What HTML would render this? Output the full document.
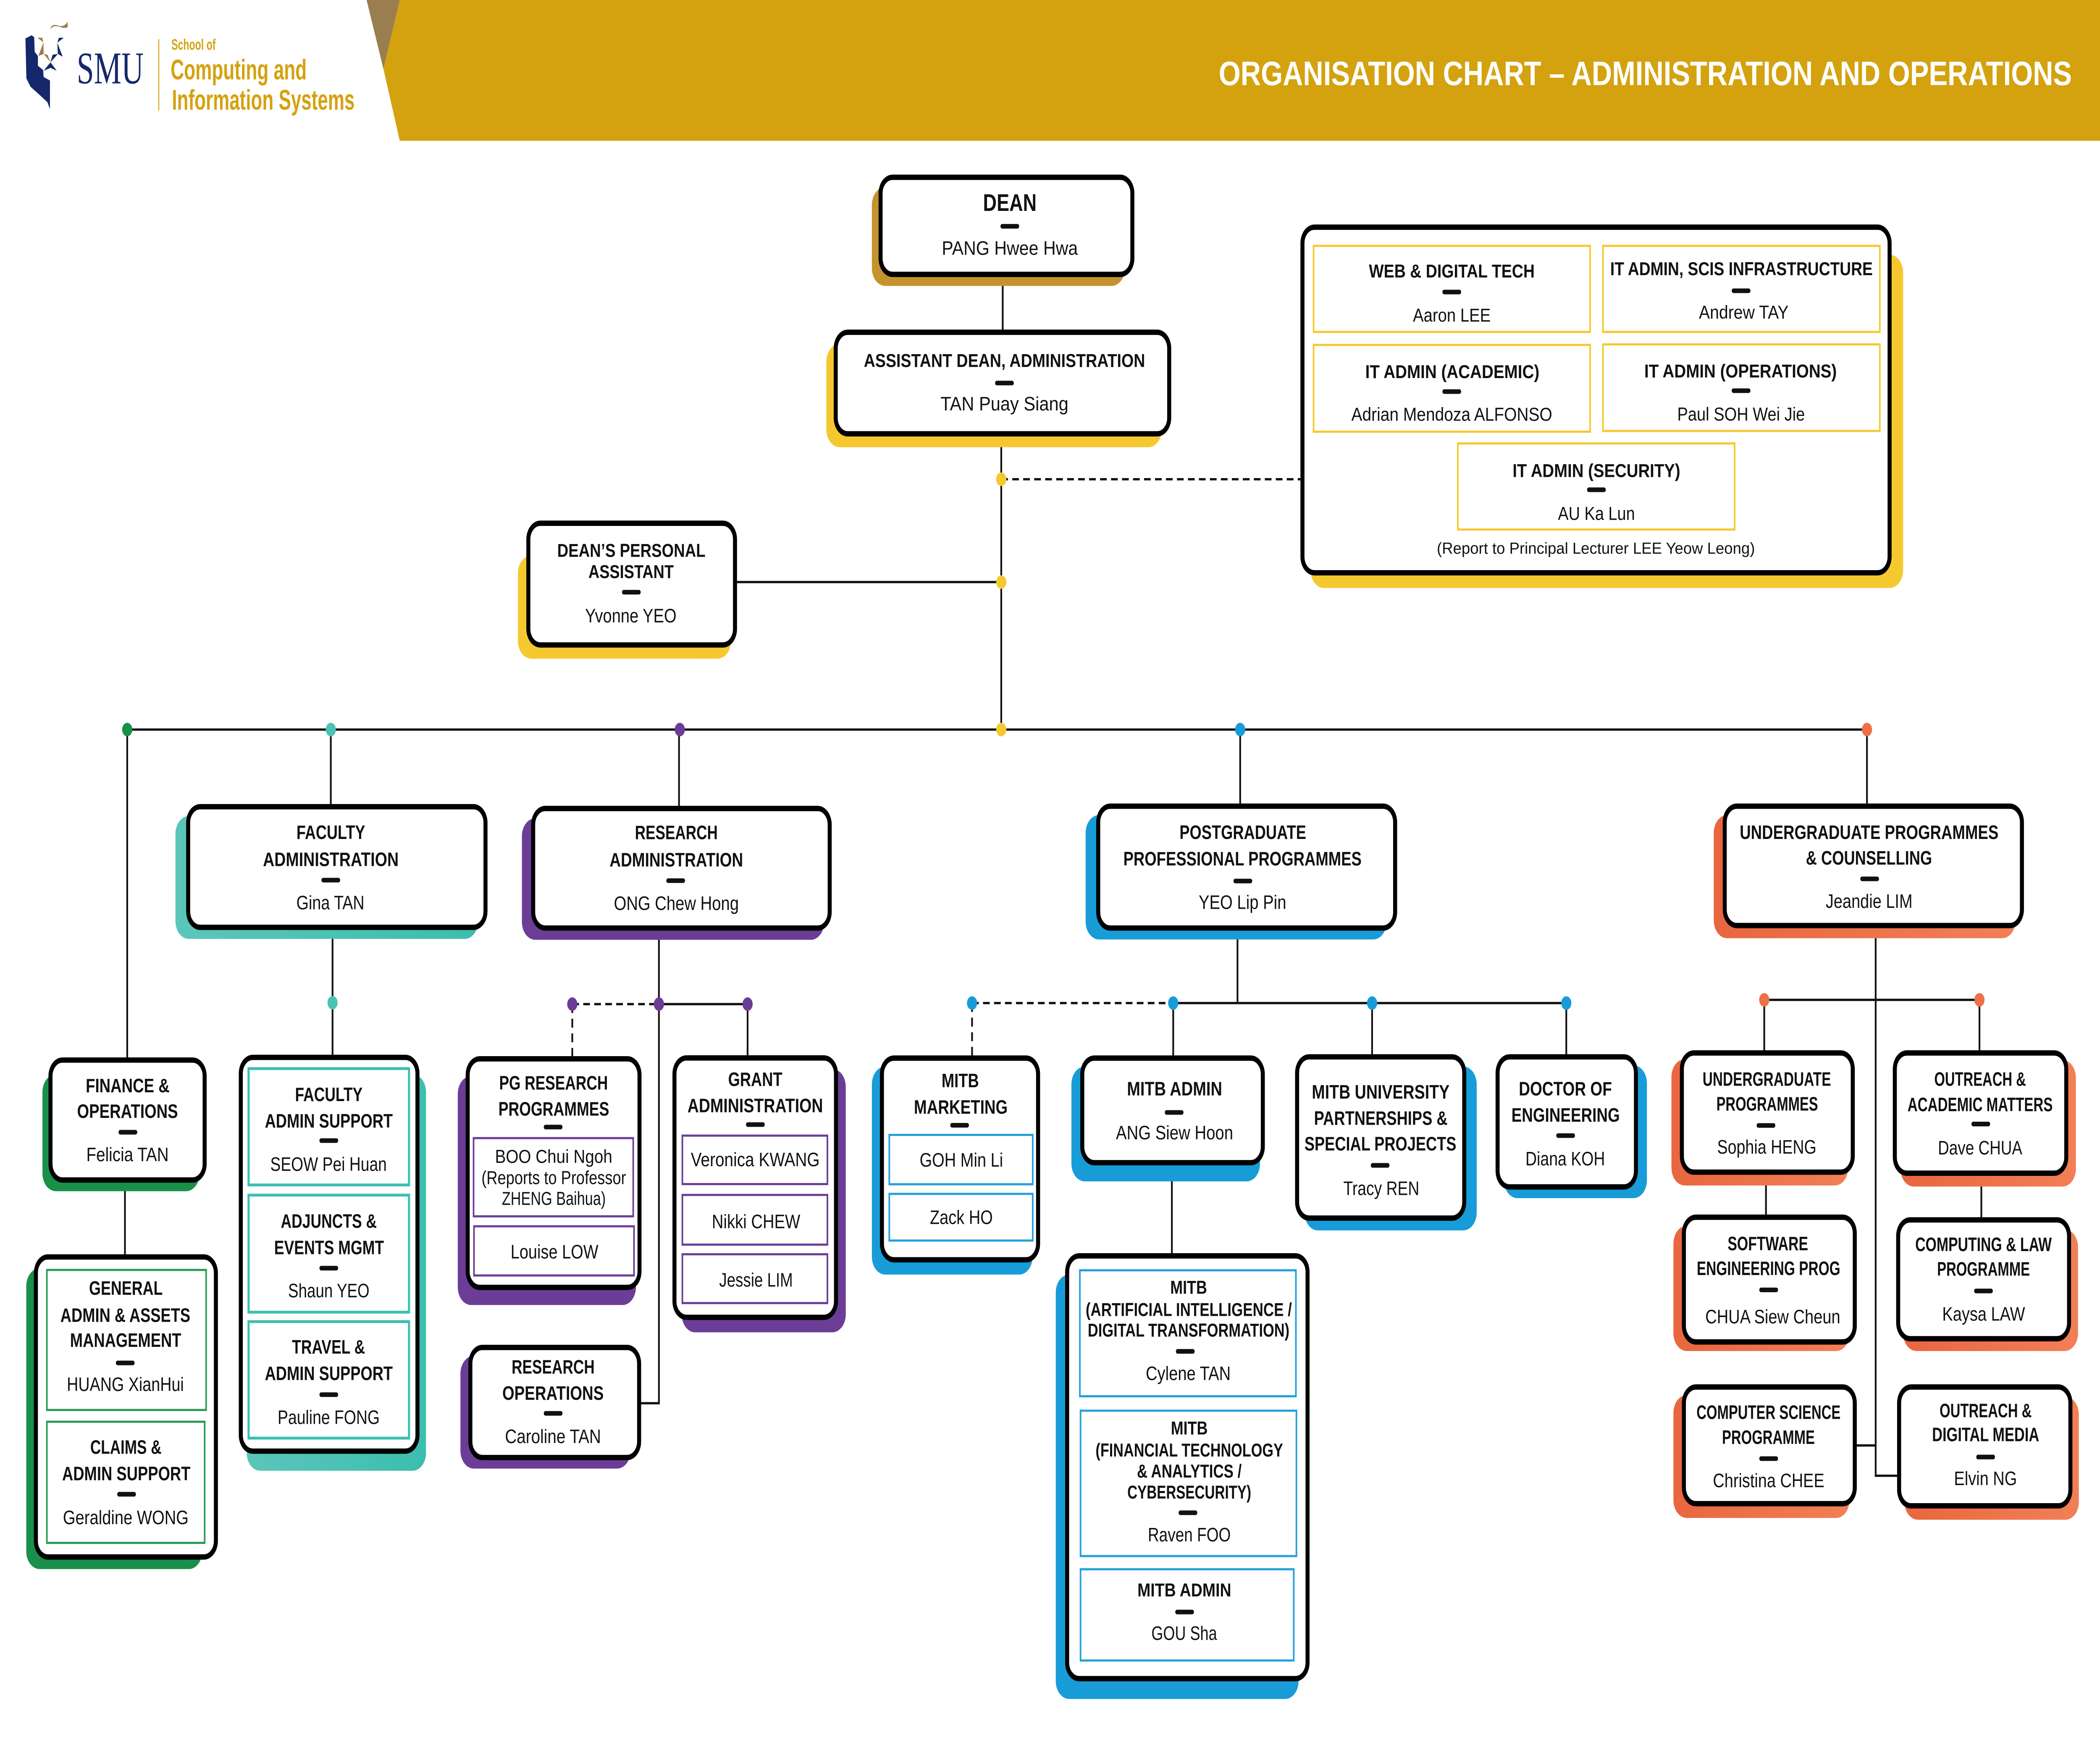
<!DOCTYPE html>
<html><head><meta charset="utf-8"><style>
html,body{margin:0;padding:0;background:#fff;width:100%;height:100%;overflow:hidden}
svg{display:block;position:absolute;left:0;top:0;width:100vw;height:100vh}
.t{font-family:"Liberation Sans",sans-serif;font-weight:bold;font-size:11px;text-anchor:middle;fill:#111}
.t2{font-family:"Liberation Sans",sans-serif;font-weight:bold;font-size:10.5px;text-anchor:middle;fill:#111}
.n{font-family:"Liberation Sans",sans-serif;font-size:11px;text-anchor:middle;fill:#111}
.n2{font-family:"Liberation Sans",sans-serif;font-size:10.5px;text-anchor:middle;fill:#111}
.f{font-family:"Liberation Sans",sans-serif;font-size:9px;text-anchor:middle;fill:#111}
.bx{fill:#fff;stroke:#000;stroke-width:3}
.ln{fill:none;stroke:#111;stroke-width:1.3}
.dl{fill:none;stroke:#111;stroke-width:1.3;stroke-dasharray:5 3.2}
.d{fill:#111}
</style></head><body>
<svg width="100%" height="100%" viewBox="0 0 1568 987.3" preserveAspectRatio="none" xmlns="http://www.w3.org/2000/svg">
<defs>
<linearGradient id="tg" x1="0" x2="1" y1="0" y2="0"><stop offset="0" stop-color="#5BC6BA"/><stop offset="1" stop-color="#3BBEAE"/></linearGradient>
<linearGradient id="og" x1="0" x2="1" y1="0" y2="0"><stop offset="0" stop-color="#E9663F"/><stop offset="1" stop-color="#F27F56"/></linearGradient>
</defs>
<rect width="1568" height="987.3" fill="#fff"/>
<!-- header -->
<polygon points="298.5,0 1568,0 1568,79 298.5,79 286.3,38.7" fill="#D4A20F"/>
<polygon points="273.7,0 298.5,0 286.3,38.7" fill="#9B7E4F"/>
<text x="1228.5" y="47.8" font-family="Liberation Sans, sans-serif" font-weight="bold" font-size="19" fill="#fff" text-anchor="middle" textLength="637" lengthAdjust="spacingAndGlyphs">ORGANISATION CHART – ADMINISTRATION AND OPERATIONS</text>
<!-- logo -->
<path fill="#14286B" d="M19,21.6 L23.6,19.8 L25.5,20.8 L25.9,29.1 L28.3,31.4 L28.3,36.9 L32.2,39.3 L32.6,43.2 L37.3,45.2 L37.3,61.3 L35.4,57.4 L29.9,53.5 L22.8,48.7 L19.7,44 Z"/>
<g fill="#9B7E4F">
<polygon points="27.9,21.2 31.6,21.2 32.4,23.7"/>
<polygon points="32.4,23.7 28.7,31.4 32.6,30.3"/>
<polygon points="32.6,30.3 37.7,35 35.4,30.7"/>
<path d="M37.7,16.1 Q38.5,13 44,14.5 Q47.9,15.3 50.5,12.2 L50.5,15.3 Q47.9,16.1 44,14.9 Q39.3,14.1 37.9,16.3 Z"/>
</g>
<g fill="#14286B">
<polygon points="44,21.2 47.6,21.2 42.8,24"/>
<polygon points="42.8,24 46.8,31.8 43.2,30.3"/>
<polygon points="43.2,30.3 39.3,30.7 37.7,35"/>
<polygon points="37.7,35 42.4,39.7 37.7,38.1 32.6,39.7"/>
</g>
<text x="82.3" y="46.8" font-family="Liberation Serif, serif" font-size="25.5" fill="#14286B" text-anchor="middle" textLength="50" lengthAdjust="spacingAndGlyphs">SMU</text>
<rect x="118.2" y="22" width="0.7" height="40" fill="#D4A20F"/>
<text x="128" y="28" font-family="Liberation Sans, sans-serif" font-weight="bold" font-size="8.5" fill="#D4A20F" textLength="33" lengthAdjust="spacingAndGlyphs">School of</text>
<text x="127.4" y="44.6" font-family="Liberation Sans, sans-serif" font-weight="bold" font-size="16" fill="#D4A20F" textLength="101.6" lengthAdjust="spacingAndGlyphs">Computing and</text>
<text x="128.4" y="61.6" font-family="Liberation Sans, sans-serif" font-weight="bold" font-size="16" fill="#D4A20F" textLength="136.4" lengthAdjust="spacingAndGlyphs">Information Systems</text>

<!-- connectors -->
<path class="ln" d="M748.7,155 V185 M747.6,245 V409.5 M550.3,326.7 H747.6 M95,409.5 H1394 M95,409.5 V593.5 M93.3,663.8 V704 M247,409.5 V451.3 M248.3,522 V592 M507,409.5 V452.3 M492,522.4 V787.6 H478.7 M492,563.6 H558.2 M558.2,563.6 V592.3 M926,409.5 V451 M924,522.4 V563 M876,563 H1169.5 M876,563 V592.4 M1024.5,563 V591.7 M1169.5,563 V591.7 M875,654 V703.4 M1394,409.5 V451 M1400.5,521 V828.3 H1416.5 M1386.4,811.3 H1400.5 M1317.3,561.2 H1478 M1317.3,561.2 V589.5 M1478,561.2 V589.5 M1318.6,659.4 V681.7 M1479.4,660 V683.2"/>
<path class="dl" d="M747.6,269 H971 M427.3,563.6 H492 M427.3,563.6 V592.8 M725.8,563 H876 M725.8,563 V592.4"/>

<!-- shadows -->
<rect x="651" y="105" width="189" height="55.5" rx="10" fill="#C5932E"/>
<rect x="617" y="193" width="250.5" height="58" rx="10" fill="#F6C830"/>
<rect x="978.5" y="143" width="442.5" height="187" rx="10" fill="#F6C830"/>
<rect x="386.7" y="311.8" width="159.1" height="57.9" rx="10" fill="#F6C830"/>
<rect x="131" y="458" width="226" height="69" rx="10" fill="url(#tg)"/>
<rect x="389.7" y="459.3" width="225.7" height="68.2" rx="10" fill="#6B3D97"/>
<rect x="810.6" y="457.5" width="224.8" height="69.8" rx="10" fill="#189CD8"/>
<rect x="1279.6" y="457.5" width="225.4" height="69.1" rx="10" fill="url(#og)"/>
<rect x="31.7" y="603" width="117.3" height="65.6" rx="10" fill="#18904A"/>
<rect x="19.6" y="711.9" width="131.4" height="168.8" rx="10" fill="#18904A"/>
<rect x="184.2" y="603" width="133.9" height="222.5" rx="10" fill="url(#tg)"/>
<rect x="341.8" y="604" width="133" height="128.5" rx="10" fill="#6B3D97"/>
<rect x="509" y="600" width="122.5" height="147.8" rx="10" fill="#6B3D97"/>
<rect x="343.8" y="761" width="127" height="63.3" rx="10" fill="#6B3D97"/>
<rect x="651" y="598.6" width="120" height="116.8" rx="10" fill="#189CD8"/>
<rect x="800" y="598.6" width="140.8" height="64.5" rx="10" fill="#189CD8"/>
<rect x="974" y="598.6" width="128.6" height="92" rx="10" fill="#189CD8"/>
<rect x="1123" y="598" width="106.7" height="74.5" rx="10" fill="#189CD8"/>
<rect x="788.3" y="715.4" width="181.3" height="238.2" rx="10" fill="#189CD8"/>
<rect x="1248" y="594.5" width="132" height="70.9" rx="10" fill="url(#og)"/>
<rect x="1249.5" y="688" width="131.5" height="70.3" rx="10" fill="url(#og)"/>
<rect x="1249.5" y="783" width="131.5" height="69" rx="10" fill="url(#og)"/>
<rect x="1419" y="595" width="131" height="71" rx="10" fill="url(#og)"/>
<rect x="1421" y="690" width="130.6" height="68.3" rx="10" fill="url(#og)"/>
<rect x="1422" y="784" width="130.2" height="69" rx="10" fill="url(#og)"/>

<!-- boxes -->
<rect class="bx" x="657.5" y="99.5" width="188" height="54.5" rx="9"/>
<rect class="bx" x="624" y="186.5" width="249" height="57" rx="9"/>
<rect class="bx" x="972.5" y="127.5" width="438.4" height="194" rx="9"/>
<rect class="bx" x="394.5" y="293.7" width="154.3" height="68.3" rx="9"/>
<rect class="bx" x="140.5" y="452.8" width="222" height="67.7" rx="9"/>
<rect class="bx" x="398.1" y="453.8" width="221.4" height="67.1" rx="9"/>
<rect class="bx" x="820" y="452.5" width="221.7" height="68.4" rx="9"/>
<rect class="bx" x="1287.8" y="452.5" width="221.9" height="67" rx="9"/>
<rect class="bx" x="37.7" y="595" width="115.1" height="67.3" rx="9"/>
<rect class="bx" x="26.8" y="705.5" width="134.4" height="168.4" rx="9"/>
<rect class="bx" x="179.8" y="593.5" width="131.9" height="221" rx="9"/>
<rect class="bx" x="349.2" y="594.3" width="128.3" height="128.3" rx="9"/>
<rect class="bx" x="503.6" y="593.8" width="120.6" height="145.6" rx="9"/>
<rect class="bx" x="351.2" y="756.3" width="126" height="61.8" rx="9"/>
<rect class="bx" x="658.5" y="593.9" width="116.6" height="113.2" rx="9"/>
<rect class="bx" x="808.1" y="593.9" width="134.8" height="58.7" rx="9"/>
<rect class="bx" x="968.5" y="593.2" width="124.8" height="90.5" rx="9"/>
<rect class="bx" x="1118.2" y="593.2" width="103.3" height="73" rx="9"/>
<rect class="bx" x="796.8" y="704.9" width="179.5" height="237.3" rx="9"/>
<rect class="bx" x="1255.8" y="591" width="127.6" height="66.9" rx="9"/>
<rect class="bx" x="1257.3" y="683.2" width="127.6" height="70" rx="9"/>
<rect class="bx" x="1257.3" y="778.5" width="127.6" height="65.5" rx="9"/>
<rect class="bx" x="1414.8" y="591" width="128" height="67.5" rx="9"/>
<rect class="bx" x="1417.3" y="684.7" width="127.6" height="66.7" rx="9"/>
<rect class="bx" x="1418" y="778.5" width="127.9" height="66.7" rx="9"/>

<!-- inner boxes -->
<g fill="none" stroke="#F6C830" stroke-width="1.2">
<rect x="980.8" y="138" width="206.5" height="48.3"/>
<rect x="1196.9" y="138" width="206.7" height="48.3"/>
<rect x="980.8" y="193.6" width="206.5" height="48.7"/>
<rect x="1196.9" y="193.3" width="206.7" height="48.6"/>
<rect x="1088.5" y="248.9" width="206.7" height="48.3"/>
</g>
<g fill="none" stroke="#2B9A55" stroke-width="1.2">
<rect x="35" y="712.8" width="118.9" height="78.6"/>
<rect x="35" y="798" width="117.8" height="68"/>
</g>
<g fill="none" stroke="#3BBFB0" stroke-width="1.6">
<rect x="185.6" y="599.8" width="119.8" height="65.3"/>
<rect x="185.6" y="670.8" width="119.8" height="65.7"/>
<rect x="185.6" y="741.8" width="119.8" height="65.4"/>
</g>
<g fill="none" stroke="#6B3D97" stroke-width="1.2">
<rect x="353.6" y="638.8" width="119.2" height="43.9"/>
<rect x="353.9" y="688.3" width="119.5" height="27.6"/>
<rect x="509.5" y="637.4" width="108.3" height="27.2"/>
<rect x="509.5" y="670.7" width="108.3" height="27.9"/>
<rect x="509.5" y="704" width="108.3" height="27.4"/>
</g>
<g fill="none" stroke="#22A0DA" stroke-width="1.2">
<rect x="664" y="637" width="107.1" height="27.7"/>
<rect x="664" y="670.1" width="107.1" height="26.2"/>
<rect x="806.3" y="713" width="161.3" height="70.7"/>
<rect x="806.8" y="791.8" width="161.2" height="81.6"/>
<rect x="806.8" y="880.8" width="159.2" height="51.2"/>
</g>

<!-- dots -->
<g fill="#F6C830"><circle cx="747.6" cy="269" r="3.8"/><circle cx="747.6" cy="326.7" r="3.8"/><circle cx="747.6" cy="409.5" r="3.8"/></g>
<circle cx="95" cy="409.5" r="3.8" fill="#18904A"/>
<g fill="#4DC2B4"><circle cx="247" cy="409.5" r="3.8"/><circle cx="248.3" cy="562.8" r="3.8"/></g>
<g fill="#6B3D97"><circle cx="507.6" cy="409.5" r="3.8"/><circle cx="427.3" cy="563.6" r="3.8"/><circle cx="492" cy="563.6" r="3.8"/><circle cx="558.2" cy="563.6" r="3.8"/></g>
<g fill="#189CD8"><circle cx="926" cy="409.5" r="3.8"/><circle cx="725.8" cy="563" r="3.8"/><circle cx="876" cy="563" r="3.8"/><circle cx="1024.5" cy="563" r="3.8"/><circle cx="1169.5" cy="563" r="3.8"/></g>
<g fill="#EE7048"><circle cx="1394" cy="409.5" r="3.8"/><circle cx="1317.3" cy="561.2" r="3.8"/><circle cx="1478" cy="561.2" r="3.8"/></g>

<!-- dashes -->
<g class="d">
<rect x="747" y="125.7" width="14" height="2.6" rx="1.3"/>
<rect x="743" y="213.7" width="14" height="2.6" rx="1.3"/>
<rect x="1077" y="162.6" width="14" height="2.6" rx="1.3"/>
<rect x="1293" y="161.9" width="14" height="2.6" rx="1.3"/>
<rect x="1077" y="218.5" width="14" height="2.6" rx="1.3"/>
<rect x="1293" y="218" width="14" height="2.6" rx="1.3"/>
<rect x="1185" y="273.6" width="14" height="2.6" rx="1.3"/>
<rect x="464.4" y="331.1" width="14" height="2.6" rx="1.3"/>
<rect x="240" y="492.7" width="14" height="2.6" rx="1.3"/>
<rect x="497.5" y="493" width="14" height="2.6" rx="1.3"/>
<rect x="921" y="493.2" width="14" height="2.6" rx="1.3"/>
<rect x="1389" y="492" width="14" height="2.6" rx="1.3"/>
<rect x="88.5" y="634.2" width="14" height="2.6" rx="1.3"/>
<rect x="86.5" y="763.7" width="14" height="2.6" rx="1.3"/>
<rect x="87.5" y="837.4" width="14" height="2.6" rx="1.3"/>
<rect x="238.5" y="638.9" width="14" height="2.6" rx="1.3"/>
<rect x="238.5" y="710.5" width="14" height="2.6" rx="1.3"/>
<rect x="238.5" y="781.5" width="14" height="2.6" rx="1.3"/>
<rect x="406" y="631.3" width="14" height="2.6" rx="1.3"/>
<rect x="557" y="629.9" width="14" height="2.6" rx="1.3"/>
<rect x="406" y="792" width="14" height="2.6" rx="1.3"/>
<rect x="709.5" y="630.3" width="14" height="2.6" rx="1.3"/>
<rect x="869.7" y="623.1" width="14" height="2.6" rx="1.3"/>
<rect x="1023.5" y="652.8" width="14" height="2.6" rx="1.3"/>
<rect x="1162" y="636.1" width="14" height="2.6" rx="1.3"/>
<rect x="878" y="757.2" width="14" height="2.6" rx="1.3"/>
<rect x="880" y="847.8" width="14" height="2.6" rx="1.3"/>
<rect x="877.5" y="903.5" width="14" height="2.6" rx="1.3"/>
<rect x="1311.6" y="630.4" width="14" height="2.6" rx="1.3"/>
<rect x="1313.6" y="722.7" width="14" height="2.6" rx="1.3"/>
<rect x="1313.6" y="817.4" width="14" height="2.6" rx="1.3"/>
<rect x="1472" y="629.6" width="14" height="2.6" rx="1.3"/>
<rect x="1474" y="723.3" width="14" height="2.6" rx="1.3"/>
<rect x="1475.6" y="816.5" width="14" height="2.6" rx="1.3"/>
</g>

<!-- texts -->
<text class="t" style="font-size:13.5px" x="754" y="118.4" textLength="40" lengthAdjust="spacingAndGlyphs">DEAN</text>
<text class="n" x="754" y="143" textLength="101.6" lengthAdjust="spacingAndGlyphs">PANG Hwee Hwa</text>
<text class="t2" x="750" y="206" textLength="210" lengthAdjust="spacingAndGlyphs">ASSISTANT DEAN, ADMINISTRATION</text>
<text class="n" x="750" y="230.4" textLength="95.5" lengthAdjust="spacingAndGlyphs">TAN Puay Siang</text>

<text class="t2" x="1084" y="155.8" textLength="123.8" lengthAdjust="spacingAndGlyphs">WEB &amp; DIGITAL TECH</text>
<text class="n2" x="1084" y="180.5" textLength="58" lengthAdjust="spacingAndGlyphs">Aaron LEE</text>
<text class="t2" x="1300.3" y="154.5" textLength="196" lengthAdjust="spacingAndGlyphs">IT ADMIN, SCIS INFRASTRUCTURE</text>
<text class="n2" x="1302" y="178.8" textLength="67" lengthAdjust="spacingAndGlyphs">Andrew TAY</text>
<text class="t2" x="1084.4" y="212.2" textLength="130" lengthAdjust="spacingAndGlyphs">IT ADMIN (ACADEMIC)</text>
<text class="n2" x="1084" y="236.2" textLength="150" lengthAdjust="spacingAndGlyphs">Adrian Mendoza ALFONSO</text>
<text class="t2" x="1299.6" y="211.9" textLength="143.7" lengthAdjust="spacingAndGlyphs">IT ADMIN (OPERATIONS)</text>
<text class="n2" x="1300" y="236" textLength="95.3" lengthAdjust="spacingAndGlyphs">Paul SOH Wei Jie</text>
<text class="t2" x="1192" y="267.7" textLength="125.2" lengthAdjust="spacingAndGlyphs">IT ADMIN (SECURITY)</text>
<text class="n2" x="1192" y="291.8" textLength="57.5" lengthAdjust="spacingAndGlyphs">AU Ka Lun</text>
<text class="f" x="1191.6" y="310.8" textLength="237.5" lengthAdjust="spacingAndGlyphs">(Report to Principal Lecturer LEE Yeow Leong)</text>

<text class="t2" x="471.4" y="312.5" textLength="110.7" lengthAdjust="spacingAndGlyphs">DEAN’S PERSONAL</text>
<text class="t2" x="471.2" y="324.5" textLength="63.7" lengthAdjust="spacingAndGlyphs">ASSISTANT</text>
<text class="n" x="471" y="349.3" textLength="68.2" lengthAdjust="spacingAndGlyphs">Yvonne YEO</text>

<text class="t" x="247" y="470.9" textLength="51.3" lengthAdjust="spacingAndGlyphs">FACULTY</text>
<text class="t" x="247" y="486.1" textLength="101.3" lengthAdjust="spacingAndGlyphs">ADMINISTRATION</text>
<text class="n" x="246.7" y="510.4" textLength="50.8" lengthAdjust="spacingAndGlyphs">Gina TAN</text>

<text class="t" x="505" y="471" textLength="61.8" lengthAdjust="spacingAndGlyphs">RESEARCH</text>
<text class="t" x="505" y="486.3" textLength="99.7" lengthAdjust="spacingAndGlyphs">ADMINISTRATION</text>
<text class="n" x="505" y="510.7" textLength="93.3" lengthAdjust="spacingAndGlyphs">ONG Chew Hong</text>

<text class="t" x="928" y="470.9" textLength="94.6" lengthAdjust="spacingAndGlyphs">POSTGRADUATE</text>
<text class="t" x="927.7" y="485.8" textLength="177.9" lengthAdjust="spacingAndGlyphs">PROFESSIONAL PROGRAMMES</text>
<text class="n" x="927.7" y="510.2" textLength="65.4" lengthAdjust="spacingAndGlyphs">YEO Lip Pin</text>

<text class="t" x="1395.6" y="470.9" textLength="193.2" lengthAdjust="spacingAndGlyphs">UNDERGRADUATE PROGRAMMES</text>
<text class="t" x="1395.5" y="485.3" textLength="94.2" lengthAdjust="spacingAndGlyphs">&amp; COUNSELLING</text>
<text class="n" x="1395.6" y="509.6" textLength="64.8" lengthAdjust="spacingAndGlyphs">Jeandie LIM</text>

<text class="t" x="95.3" y="613.1" textLength="62.6" lengthAdjust="spacingAndGlyphs">FINANCE &amp;</text>
<text class="t" x="95.2" y="627.5" textLength="75.3" lengthAdjust="spacingAndGlyphs">OPERATIONS</text>
<text class="n" x="95.2" y="651.8" textLength="61.5" lengthAdjust="spacingAndGlyphs">Felicia TAN</text>

<text class="t" x="94" y="726.7" textLength="55" lengthAdjust="spacingAndGlyphs">GENERAL</text>
<text class="t" x="93.6" y="741.9" textLength="97" lengthAdjust="spacingAndGlyphs">ADMIN &amp; ASSETS</text>
<text class="t" x="93.8" y="756" textLength="83" lengthAdjust="spacingAndGlyphs">MANAGEMENT</text>
<text class="n" x="93.6" y="780.7" textLength="87.4" lengthAdjust="spacingAndGlyphs">HUANG XianHui</text>
<text class="t" x="94" y="816" textLength="53.2" lengthAdjust="spacingAndGlyphs">CLAIMS &amp;</text>
<text class="t" x="94.3" y="830.9" textLength="95.8" lengthAdjust="spacingAndGlyphs">ADMIN SUPPORT</text>
<text class="n" x="93.9" y="855.5" textLength="93.8" lengthAdjust="spacingAndGlyphs">Geraldine WONG</text>

<text class="t" x="245.5" y="618" textLength="50.4" lengthAdjust="spacingAndGlyphs">FACULTY</text>
<text class="t" x="245.5" y="632.9" textLength="95.5" lengthAdjust="spacingAndGlyphs">ADMIN SUPPORT</text>
<text class="n" x="245.3" y="657.2" textLength="87" lengthAdjust="spacingAndGlyphs">SEOW Pei Huan</text>
<text class="t" x="245.5" y="689.1" textLength="71.7" lengthAdjust="spacingAndGlyphs">ADJUNCTS &amp;</text>
<text class="t" x="245.7" y="704" textLength="82" lengthAdjust="spacingAndGlyphs">EVENTS MGMT</text>
<text class="n" x="245.5" y="728.2" textLength="60.7" lengthAdjust="spacingAndGlyphs">Shaun YEO</text>
<text class="t" x="245.3" y="759.7" textLength="54.6" lengthAdjust="spacingAndGlyphs">TRAVEL &amp;</text>
<text class="t" x="245.5" y="774.6" textLength="95.5" lengthAdjust="spacingAndGlyphs">ADMIN SUPPORT</text>
<text class="n" x="245.4" y="799.3" textLength="76.2" lengthAdjust="spacingAndGlyphs">Pauline FONG</text>

<text class="t" x="413.3" y="611.5" textLength="81.2" lengthAdjust="spacingAndGlyphs">PG RESEARCH</text>
<text class="t" x="413.5" y="626.2" textLength="82.7" lengthAdjust="spacingAndGlyphs">PROGRAMMES</text>
<text class="n2" x="413.4" y="652.7" textLength="87.6" lengthAdjust="spacingAndGlyphs">BOO Chui Ngoh</text>
<text class="n2" x="413.5" y="664.6" textLength="108" lengthAdjust="spacingAndGlyphs">(Reports to Professor</text>
<text class="n2" x="413.5" y="676.3" textLength="77.6" lengthAdjust="spacingAndGlyphs">ZHENG Baihua)</text>
<text class="n" x="414" y="706.3" textLength="65.5" lengthAdjust="spacingAndGlyphs">Louise LOW</text>

<text class="t" x="563.9" y="609.5" textLength="40.5" lengthAdjust="spacingAndGlyphs">GRANT</text>
<text class="t" x="563.9" y="624.3" textLength="101.2" lengthAdjust="spacingAndGlyphs">ADMINISTRATION</text>
<text class="n" x="563.9" y="654.6" textLength="96.2" lengthAdjust="spacingAndGlyphs">Veronica KWANG</text>
<text class="n" x="564.5" y="689.4" textLength="66" lengthAdjust="spacingAndGlyphs">Nikki CHEW</text>
<text class="n" x="564.5" y="722.2" textLength="55" lengthAdjust="spacingAndGlyphs">Jessie LIM</text>

<text class="t" x="413" y="770.9" textLength="62" lengthAdjust="spacingAndGlyphs">RESEARCH</text>
<text class="t" x="412.9" y="785.7" textLength="75.7" lengthAdjust="spacingAndGlyphs">OPERATIONS</text>
<text class="n" x="412.9" y="810" textLength="71.7" lengthAdjust="spacingAndGlyphs">Caroline TAN</text>

<text class="t" x="717" y="610.3" textLength="27.9" lengthAdjust="spacingAndGlyphs">MITB</text>
<text class="t" x="717.4" y="625.1" textLength="70" lengthAdjust="spacingAndGlyphs">MARKETING</text>
<text class="n" x="717.8" y="654.8" textLength="62.3" lengthAdjust="spacingAndGlyphs">GOH Min Li</text>
<text class="n" x="717.8" y="687" textLength="47" lengthAdjust="spacingAndGlyphs">Zack HO</text>

<text class="t" x="877" y="614.8" textLength="71.1" lengthAdjust="spacingAndGlyphs">MITB ADMIN</text>
<text class="n" x="877" y="639.5" textLength="87.5" lengthAdjust="spacingAndGlyphs">ANG Siew Hoon</text>

<text class="t" x="1030.9" y="616.6" textLength="102.8" lengthAdjust="spacingAndGlyphs">MITB UNIVERSITY</text>
<text class="t" x="1031" y="631.4" textLength="99.7" lengthAdjust="spacingAndGlyphs">PARTNERSHIPS &amp;</text>
<text class="t" x="1030.7" y="645.8" textLength="113.4" lengthAdjust="spacingAndGlyphs">SPECIAL PROJECTS</text>
<text class="n" x="1031.4" y="670.7" textLength="56.7" lengthAdjust="spacingAndGlyphs">Tracy REN</text>

<text class="t" x="1168.8" y="614.8" textLength="69.5" lengthAdjust="spacingAndGlyphs">DOCTOR OF</text>
<text class="t" x="1169" y="629.6" textLength="80.9" lengthAdjust="spacingAndGlyphs">ENGINEERING</text>
<text class="n" x="1168.7" y="654.1" textLength="59.4" lengthAdjust="spacingAndGlyphs">Diana KOH</text>

<text class="t2" x="887.5" y="726.2" textLength="27.5" lengthAdjust="spacingAndGlyphs">MITB</text>
<text class="t2" x="887.6" y="738.6" textLength="154" lengthAdjust="spacingAndGlyphs">(ARTIFICIAL INTELLIGENCE /</text>
<text class="t2" x="887.5" y="750.2" textLength="150.6" lengthAdjust="spacingAndGlyphs">DIGITAL TRANSFORMATION)</text>
<text class="n" x="887.2" y="774.6" textLength="63.4" lengthAdjust="spacingAndGlyphs">Cylene TAN</text>
<text class="t2" x="888" y="805.1" textLength="27.5" lengthAdjust="spacingAndGlyphs">MITB</text>
<text class="t2" x="888" y="817.5" textLength="140" lengthAdjust="spacingAndGlyphs">(FINANCIAL TECHNOLOGY</text>
<text class="t2" x="888" y="829.3" textLength="78.2" lengthAdjust="spacingAndGlyphs">&amp; ANALYTICS /</text>
<text class="t2" x="888" y="841.1" textLength="92.5" lengthAdjust="spacingAndGlyphs">CYBERSECURITY)</text>
<text class="n" x="888" y="865.1" textLength="61.9" lengthAdjust="spacingAndGlyphs">Raven FOO</text>
<text class="t2" x="884.3" y="896.1" textLength="70.1" lengthAdjust="spacingAndGlyphs">MITB ADMIN</text>
<text class="n" x="884.2" y="920.5" textLength="49" lengthAdjust="spacingAndGlyphs">GOU Sha</text>

<text class="t" x="1319.2" y="609.4" textLength="95.9" lengthAdjust="spacingAndGlyphs">UNDERGRADUATE</text>
<text class="t" x="1319.5" y="623.4" textLength="75.9" lengthAdjust="spacingAndGlyphs">PROGRAMMES</text>
<text class="n" x="1319.2" y="647.5" textLength="74.1" lengthAdjust="spacingAndGlyphs">Sophia HENG</text>

<text class="t" x="1320" y="701.7" textLength="60.1" lengthAdjust="spacingAndGlyphs">SOFTWARE</text>
<text class="t" x="1320.5" y="715.7" textLength="107.2" lengthAdjust="spacingAndGlyphs">ENGINEERING PROG</text>
<text class="n" x="1323.7" y="742.8" textLength="100.8" lengthAdjust="spacingAndGlyphs">CHUA Siew Cheun</text>

<text class="t" x="1320.5" y="796.4" textLength="107.6" lengthAdjust="spacingAndGlyphs">COMPUTER SCIENCE</text>
<text class="t" x="1320.4" y="810.4" textLength="69.3" lengthAdjust="spacingAndGlyphs">PROGRAMME</text>
<text class="n" x="1320.6" y="834.7" textLength="83.2" lengthAdjust="spacingAndGlyphs">Christina CHEE</text>

<text class="t" x="1478.5" y="609.4" textLength="68.5" lengthAdjust="spacingAndGlyphs">OUTREACH &amp;</text>
<text class="t" x="1478.5" y="623.7" textLength="108.4" lengthAdjust="spacingAndGlyphs">ACADEMIC MATTERS</text>
<text class="n" x="1478.5" y="648" textLength="63" lengthAdjust="spacingAndGlyphs">Dave CHUA</text>

<text class="t" x="1481" y="702.2" textLength="101.9" lengthAdjust="spacingAndGlyphs">COMPUTING &amp; LAW</text>
<text class="t" x="1481" y="716" textLength="69.3" lengthAdjust="spacingAndGlyphs">PROGRAMME</text>
<text class="n" x="1481.1" y="741.3" textLength="61.8" lengthAdjust="spacingAndGlyphs">Kaysa LAW</text>

<text class="t" x="1482.6" y="795.5" textLength="68.8" lengthAdjust="spacingAndGlyphs">OUTREACH &amp;</text>
<text class="t" x="1482.6" y="808.9" textLength="80" lengthAdjust="spacingAndGlyphs">DIGITAL MEDIA</text>
<text class="n" x="1482.5" y="833.6" textLength="47" lengthAdjust="spacingAndGlyphs">Elvin NG</text>
</svg>
</body></html>
